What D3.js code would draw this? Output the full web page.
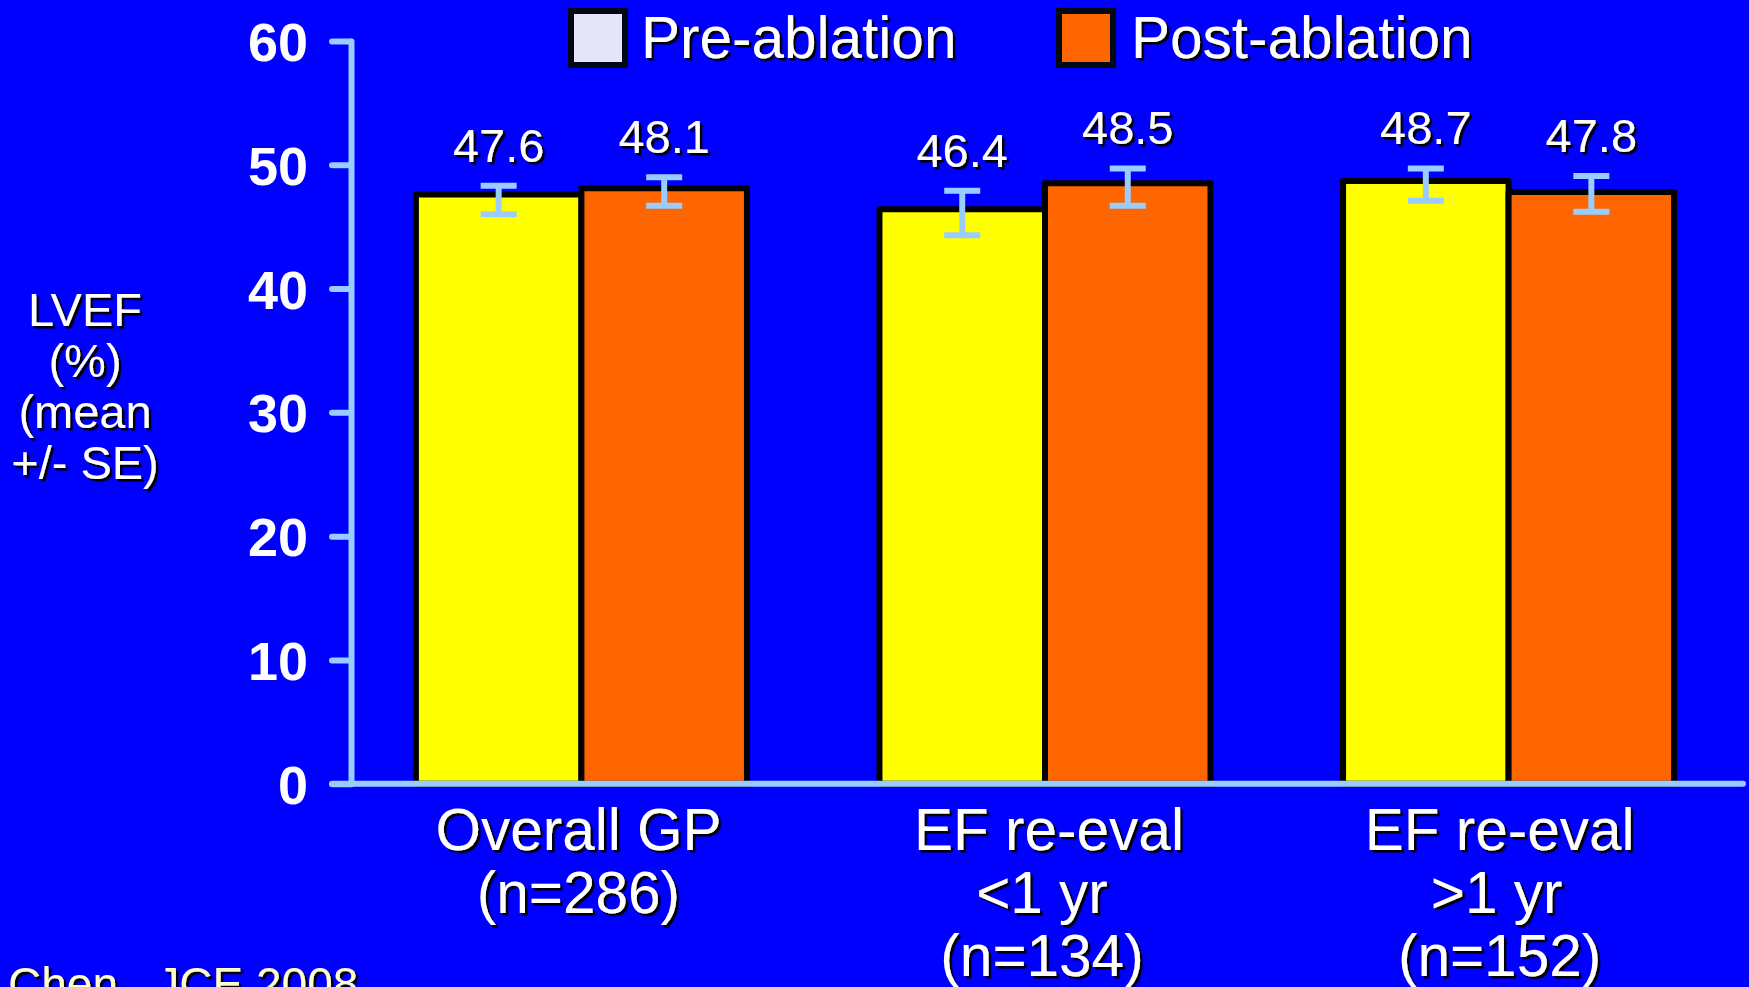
<!DOCTYPE html>
<html>
<head>
<meta charset="utf-8">
<script src="https://cdn.jsdelivr.net/npm/d3@7"></script>
<style>
  html, body { margin: 0; padding: 0; background: #0000ff; overflow: hidden; }
  svg { display: block; font-family: "Liberation Sans", Arial, sans-serif; }
</style>
</head>
<body>
<svg id="chart" width="1749" height="987"></svg>
<script>
// ---- data ----
const categories = ["Overall GP", "EF re-eval <1 yr", "EF re-eval >1 yr"];
const categoryLines = [["Overall GP", "(n=286)"], ["EF re-eval", "<1 yr", "(n=134)"], ["EF re-eval", ">1 yr", "(n=152)"]];
const seriesNames = ["Pre-ablation", "Post-ablation"];
const preValues = [47.6, 46.4, 48.7];
const postValues = [48.1, 48.5, 47.8];
const preErrHigh = [48.3, 47.9, 49.7];
const preErrLow = [46.0, 44.3, 47.1];
const postErrHigh = [49.0, 49.7, 49.1];
const postErrLow = [46.7, 46.7, 46.2];
const yTicks = [0, 10, 20, 30, 40, 50, 60];
const yTitleLines = ["LVEF", "(%)", "(mean", "+/- SE)"];
const sourceNote = "Chen , JCE 2008";

const barColors = ["#ffff00", "#ff6600"];
const legendColors = ["#e6e6fa", "#ff6600"];
const axisColor = "#99ccff";

// layout nudges for the category label lines (pixels)
const labelShift = [[-3, -3], [4, -3, -3], [-9, -12, -9]];

const svg = d3.select("#chart");
const defs = svg.append("defs");
const f = defs.append("filter").attr("id", "shadow").attr("x", "-10%").attr("y", "-10%").attr("width", "130%").attr("height", "130%");
f.append("feDropShadow").attr("dx", 2.5).attr("dy", 2.5).attr("stdDeviation", 0.3).attr("flood-color", "#000").attr("flood-opacity", 1);

svg.append("rect").attr("width", 1749).attr("height", 987).attr("fill", "#0000ff");

const y = d3.scaleLinear().domain([0, 60]).range([783.7, 41]);
const x0 = d3.scaleBand().domain(categories).range([351, 1739]).paddingInner(0.2859).paddingOuter(0.14);
const x1 = d3.scaleBand().domain(seriesNames).range([0, x0.bandwidth()]).padding(0);

const rows = [];
categories.forEach((c, i) => {
  rows.push({cat: c, s: seriesNames[0], v: preValues[i], hi: preErrHigh[i], lo: preErrLow[i], color: barColors[0]});
  rows.push({cat: c, s: seriesNames[1], v: postValues[i], hi: postErrHigh[i], lo: postErrLow[i], color: barColors[1]});
});

// bars
svg.append("g").selectAll("rect").data(rows).join("rect")
  .attr("x", d => x0(d.cat) + x1(d.s))
  .attr("y", d => y(d.v))
  .attr("width", x1.bandwidth())
  .attr("height", d => y(0) - y(d.v))
  .attr("fill", d => d.color)
  .attr("stroke", "#000")
  .attr("stroke-width", 6)
  .attr("stroke-linejoin", "round");

// error bars
const eg = svg.append("g").attr("stroke", axisColor).attr("stroke-width", 6);
rows.forEach(d => {
  const cx = x0(d.cat) + x1(d.s) + x1.bandwidth() / 2;
  eg.append("line").attr("x1", cx).attr("x2", cx).attr("y1", y(d.hi)).attr("y2", y(d.lo));
  eg.append("line").attr("x1", cx - 18).attr("x2", cx + 18).attr("y1", y(d.hi)).attr("y2", y(d.hi));
  eg.append("line").attr("x1", cx - 18).attr("x2", cx + 18).attr("y1", y(d.lo)).attr("y2", y(d.lo));
});

// value labels
svg.append("g").selectAll("text").data(rows).join("text")
  .attr("x", d => x0(d.cat) + x1(d.s) + x1.bandwidth() / 2)
  .attr("y", d => y(d.hi) - 24)
  .attr("text-anchor", "middle")
  .attr("fill", "#fff")
  .attr("font-size", 47)
  .attr("filter", "url(#shadow)")
  .text(d => d.v.toFixed(1));

// y axis
const yAxis = svg.append("g").attr("transform", "translate(351,0)")
  .call(d3.axisLeft(y).tickValues(yTicks).tickSize(19).tickSizeOuter(0).tickPadding(24).tickFormat(d3.format("d")));
yAxis.select(".domain").attr("stroke", axisColor).attr("stroke-width", 6).attr("stroke-linecap", "round");
yAxis.selectAll(".tick line").attr("stroke", axisColor).attr("stroke-width", 6).attr("stroke-linecap", "round");
yAxis.selectAll(".tick text").attr("fill", "#fff").attr("font-size", 54).attr("font-weight", "bold")
  .attr("font-family", "'Liberation Sans', Arial, sans-serif").attr("dy", "0.36em");

// x axis line
svg.append("line").attr("x1", 332).attr("x2", 1743).attr("y1", y(0)).attr("y2", y(0))
  .attr("stroke", axisColor).attr("stroke-width", 6).attr("stroke-linecap", "round");

// category labels
categories.forEach((c, i) => {
  const t = svg.append("text").attr("text-anchor", "middle").attr("fill", "#fff").attr("font-size", 58.5)
    .attr("filter", "url(#shadow)");
  categoryLines[i].forEach((ln, j) => {
    t.append("tspan").attr("x", x0(c) + x0.bandwidth() / 2 + labelShift[i][j]).attr("y", 850 + 63 * j).text(ln);
  });
});

// y title
const yt = svg.append("text").attr("text-anchor", "middle").attr("fill", "#fff").attr("font-size", 47)
  .attr("filter", "url(#shadow)");
yTitleLines.forEach((ln, j) => yt.append("tspan").attr("x", 85).attr("y", 326 + 51 * j).text(ln));

// legend
const legendX = [571, 1059];
const legendTextX = [641, 1131];
seriesNames.forEach((s, i) => {
  svg.append("rect").attr("x", legendX[i]).attr("y", 11).attr("width", 54).attr("height", 54)
    .attr("fill", legendColors[i]).attr("stroke", "#000814").attr("stroke-width", 6);
  svg.append("text").attr("x", legendTextX[i]).attr("y", 58).attr("fill", "#fff").attr("font-size", 58.5)
    .attr("filter", "url(#shadow)").text(s);
});

// source note (cut off at the bottom edge, as in the reference)
svg.append("text").attr("x", 8).attr("y", 1000).attr("fill", "#ffffcc").attr("font-size", 46)
  .attr("filter", "url(#shadow)").text(sourceNote);
</script>
</body>
</html>
